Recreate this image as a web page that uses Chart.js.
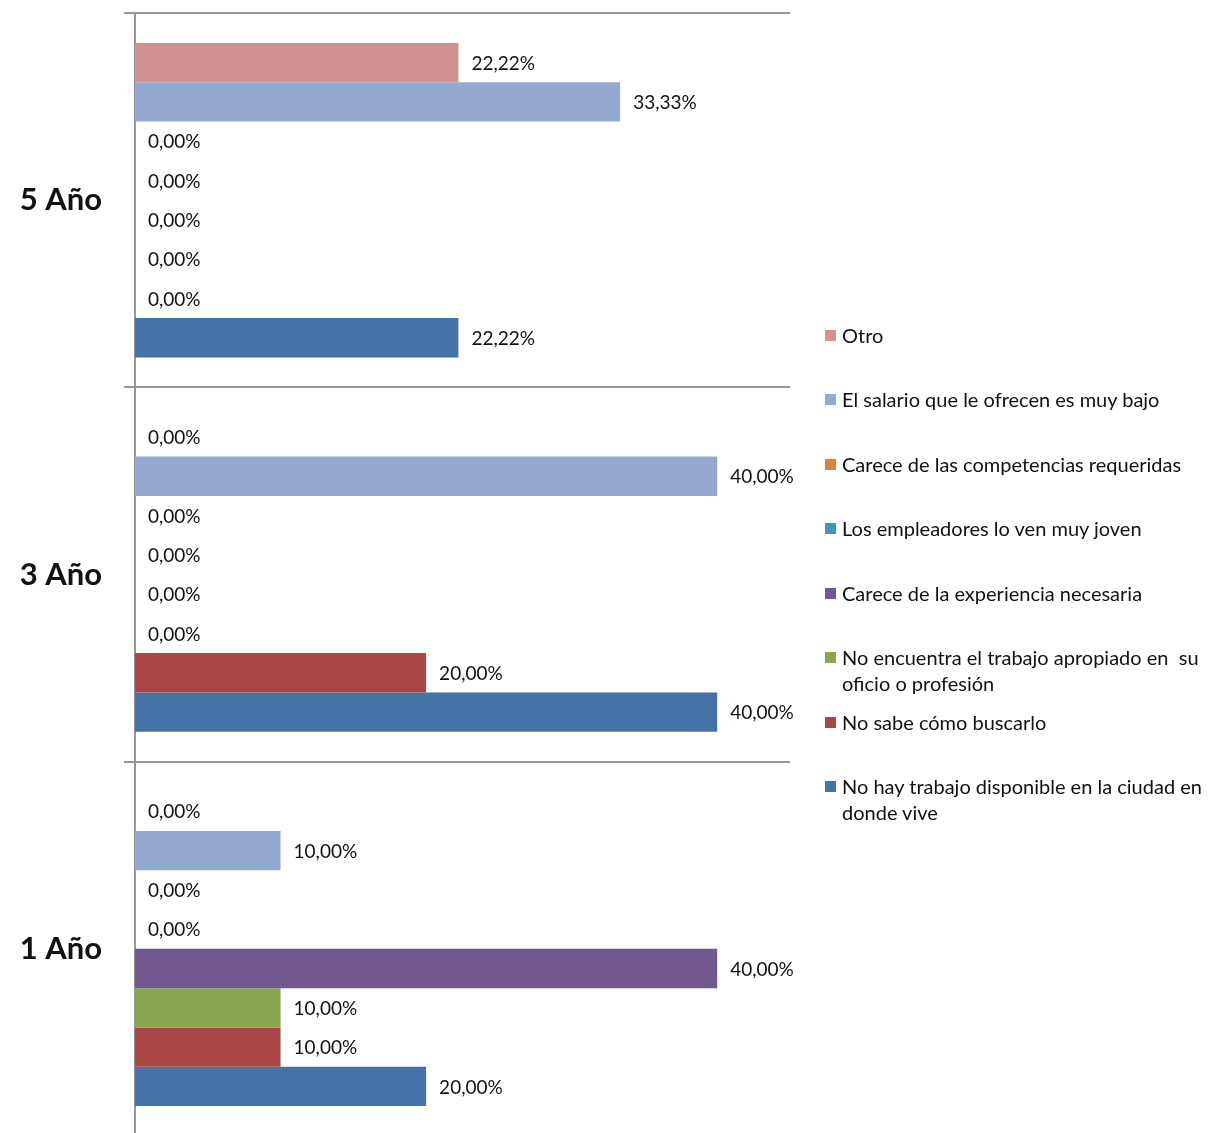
<!DOCTYPE html>
<html>
<head>
<meta charset="utf-8">
<script src="https://cdn.jsdelivr.net/npm/chart.js@4/dist/chart.umd.min.js"></script>
<style>
  html, body { margin: 0; padding: 0; background: #fff; overflow: hidden; }
  #wrap { position: relative; width: 1208px; height: 1133px; overflow: hidden; }
  canvas { position: absolute; left: 0; top: 0; }
  #legend { position: absolute; left: 825px; top: 322px; width: 383px; font-family: Lato, "Open Sans", sans-serif; font-size: 20px; color: #111; }
  .item { position: relative; height: 64.43px; line-height: 26px; padding-left: 17px; box-sizing: border-box; white-space: pre-wrap; }
  .item .box { position: absolute; left: 0; top: 8px; width: 11px; height: 11px; }
</style>
</head>
<body>
<div id="wrap">
  <canvas id="c" width="1208" height="1136"></canvas>
  <div id="legend"></div>
</div>
<script>
// Categories (top to bottom as shown)
const categories = ['5 Año', '3 Año', '1 Año'];

// Series names (top of each group first; same order as legend)
const seriesNames = [
  'Otro',
  'El salario que le ofrecen es muy bajo',
  'Carece de las competencias requeridas',
  'Los empleadores lo ven muy joven',
  'Carece de la experiencia necesaria',
  'No encuentra el trabajo apropiado en  su oficio o profesión',
  'No sabe cómo buscarlo',
  'No hay trabajo disponible en la ciudad en donde vive'
];

const seriesColors = ['#D19392', '#93A9CF', '#DB843D', '#4198AF', '#71588F', '#89A54E', '#AA4643', '#4572A7'];

// Values (%) per series, in category order [5 Año, 3 Año, 1 Año]
const otro          = [22.22, 0, 0];
const salarioBajo   = [33.33, 40, 10];
const competencias  = [0, 0, 0];
const muyJoven      = [0, 0, 0];
const experiencia   = [0, 0, 40];
const noEncuentra   = [0, 0, 10];
const noSabe        = [0, 20, 10];
const noHayTrabajo  = [22.22, 40, 20];

const seriesValues = [otro, salarioBajo, competencias, muyJoven, experiencia, noEncuentra, noSabe, noHayTrabajo];

const FONT = 'Lato, "Open Sans", sans-serif';

const valueLabels = {
  id: 'valueLabels',
  afterDatasetsDraw(chart) {
    const ctx = chart.ctx;
    ctx.save();
    ctx.font = '19px ' + FONT;
    ctx.fillStyle = '#111';
    ctx.textAlign = 'left';
    ctx.textBaseline = 'middle';
    chart.data.datasets.forEach((ds, di) => {
      const meta = chart.getDatasetMeta(di);
      meta.data.forEach((el, i) => {
        const v = ds.data[i];
        const txt = v.toFixed(2).replace('.', ',') + '%';
        ctx.fillText(txt, el.x + 13, el.y + 1);
      });
    });
    ctx.restore();
  }
};

const datasets = seriesNames.map((name, i) => ({
  label: name,
  data: seriesValues[i],
  backgroundColor: seriesColors[i],
  borderWidth: 0,
  categoryPercentage: 0.84,
  barPercentage: 1.0
}));

new Chart(document.getElementById('c'), {
  type: 'bar',
  data: { labels: categories, datasets },
  options: {
    indexAxis: 'y',
    responsive: false,
    animation: false,
    layout: { padding: { top: 13, right: 418, left: 0, bottom: 0 } },
    plugins: { legend: { display: false }, tooltip: { enabled: false } },
    scales: {
      x: { display: false, min: 0, max: 45 },
      y: {
        offset: true,
        grid: { offset: true, color: '#969696', lineWidth: 2, drawTicks: true, tickLength: 11, tickColor: '#969696' },
        border: { display: true, color: '#969696', width: 2 },
        ticks: { color: '#111', padding: 22, font: { family: FONT, size: 31, weight: 'bold' } },
        afterFit: (s) => { s.width = 135; s.paddingTop = 0; s.paddingBottom = 0; }
      }
    }
  },
  plugins: [valueLabels]
});

// HTML legend built from the series arrays
const lg = document.getElementById('legend');
seriesNames.forEach((name, i) => {
  const it = document.createElement('div');
  it.className = 'item';
  const b = document.createElement('span');
  b.className = 'box';
  b.style.background = seriesColors[i];
  const t = document.createElement('span');
  t.textContent = name;
  it.appendChild(b);
  it.appendChild(t);
  lg.appendChild(it);
});
</script>
</body>
</html>
